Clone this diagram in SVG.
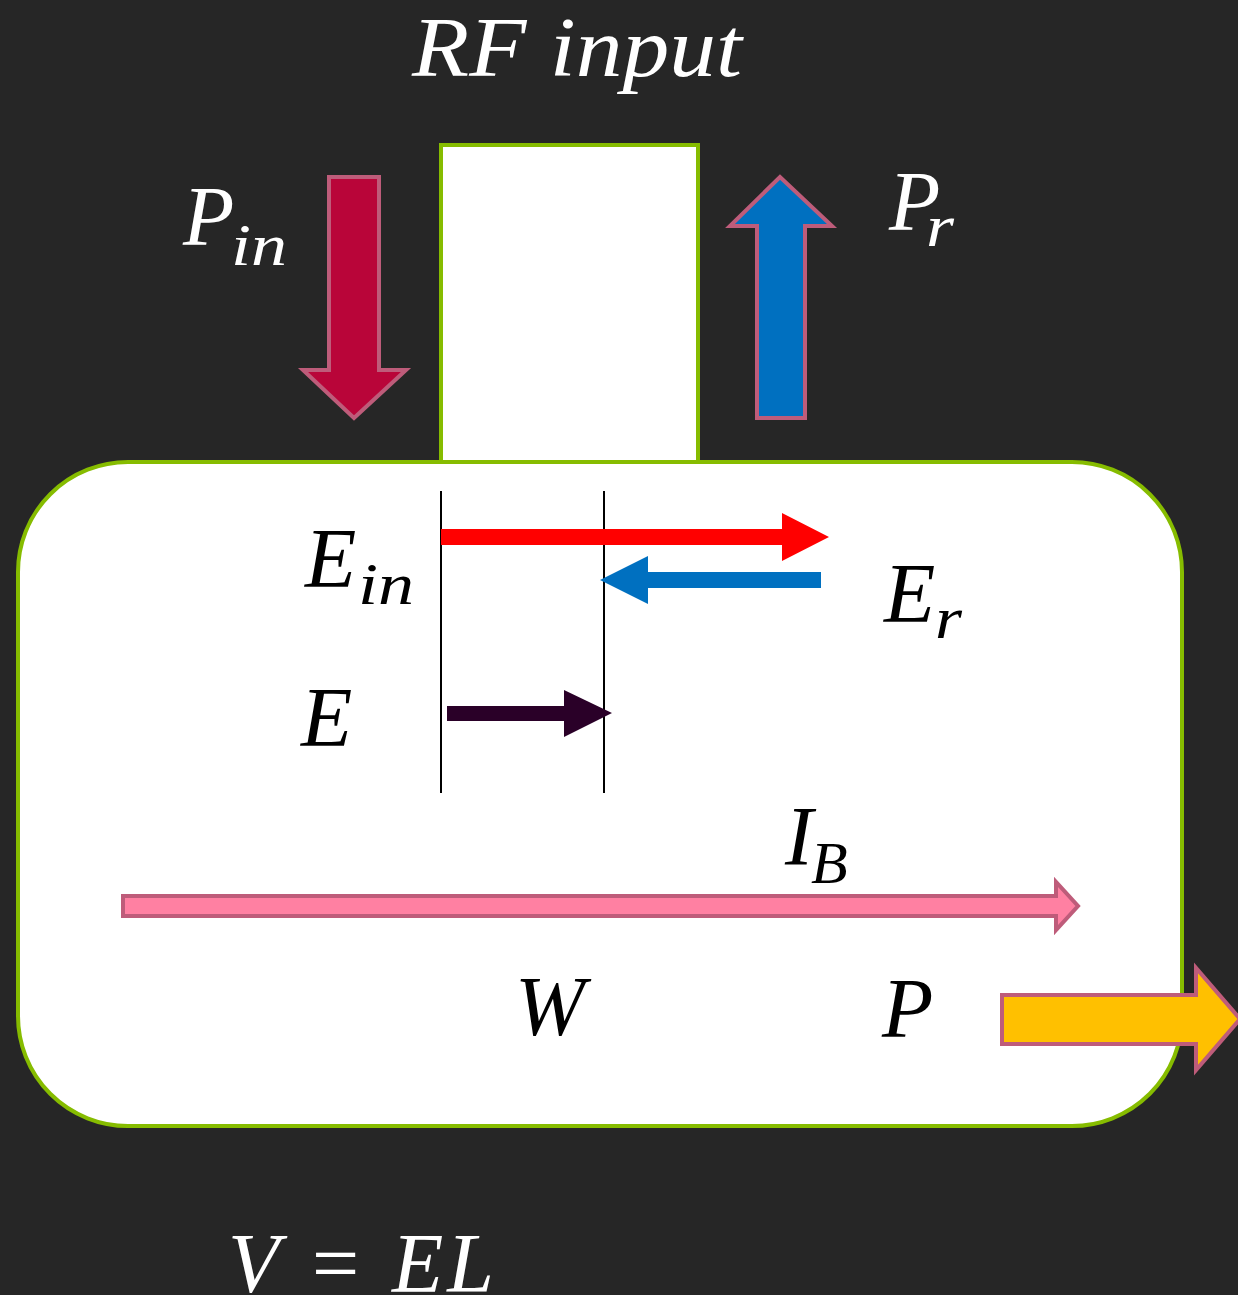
<svg xmlns="http://www.w3.org/2000/svg" width="1238" height="1295" viewBox="0 0 1238 1295">
<style>
.m{font-family:"Liberation Serif","DejaVu Serif",serif;font-style:italic;font-size:84px}
.s{font-family:"Liberation Serif","DejaVu Serif",serif;font-style:italic;font-size:60px}
.w{fill:#ffffff}
.k{fill:#000000}
.box{fill:#ffffff;stroke:#86BC00;stroke-width:4}
.fat{stroke:#BE5C7A;stroke-width:4;stroke-linejoin:miter}
</style>
<rect x="0" y="0" width="1238" height="1295" fill="#262626"/>
<g id="chamber"><rect class="box" x="18" y="462" width="1164" height="664" rx="110" ry="110"/></g>
<g id="rf-input-port"><rect class="box" x="441" y="145" width="257" height="317"/></g>
<g id="gap-lines">
<line x1="441" y1="491" x2="441" y2="793" stroke="#000" stroke-width="2"/>
<line x1="604" y1="491" x2="604" y2="793" stroke="#000" stroke-width="2"/>
</g>
<g id="connectors">
<polygon id="arrow-pin" class="fat" fill="#B90539" points="329,177 379,177 379,370 406,370 354,418 303,370 329,370"/>
<polygon id="arrow-pr" class="fat" fill="#0070C0" points="757,418 805,418 805,226 832,226 780,177 730,226 757,226"/>
<polygon id="arrow-ein" fill="#FF0000" points="441,529 782,529 782,513 829,537 782,561 782,545 441,545"/>
<polygon id="arrow-er" fill="#0070C0" points="821,572 648,572 648,556 600,580 648,604 648,588 821,588"/>
<polygon id="arrow-e" fill="#2A0028" points="447,706 564,706 564,690 612,713 564,737 564,721 447,721"/>
<polygon id="arrow-ib" class="fat" fill="#FF80A2" points="123,896 1056,896 1056,882 1078,906 1056,930 1056,916 123,916"/>
<polygon id="arrow-p" class="fat" fill="#FFC000" stroke-width="5" points="1002,995 1196,995 1196,968 1240,1019 1196,1070 1196,1044 1002,1044"/>
</g>
<g id="labels">
<text class="m w" x="412" y="76" textLength="330" lengthAdjust="spacingAndGlyphs">RF input</text>
<text class="m w" x="183" y="245">P</text><text class="s w" x="231" y="265" textLength="56" lengthAdjust="spacingAndGlyphs">in</text>
<text class="m w" x="889" y="230">P</text><text class="s w" x="926" y="246" textLength="28" lengthAdjust="spacingAndGlyphs">r</text>
<text class="m k" x="305" y="587">E</text><text class="s k" x="358" y="604" textLength="56" lengthAdjust="spacingAndGlyphs">in</text>
<text class="m k" x="884" y="622">E</text><text class="s k" x="935" y="638" textLength="27" lengthAdjust="spacingAndGlyphs">r</text>
<text class="m k" x="301" y="746">E</text>
<text class="m k" x="785" y="865">I</text><text class="s k" x="811" y="883">B</text>
<text class="m k" x="515" y="1035">W</text>
<text class="m k" x="882" y="1037">P</text>
<text class="m w" x="228" y="1292" textLength="266" lengthAdjust="spacing">V = EL</text>
</g>
</svg>
